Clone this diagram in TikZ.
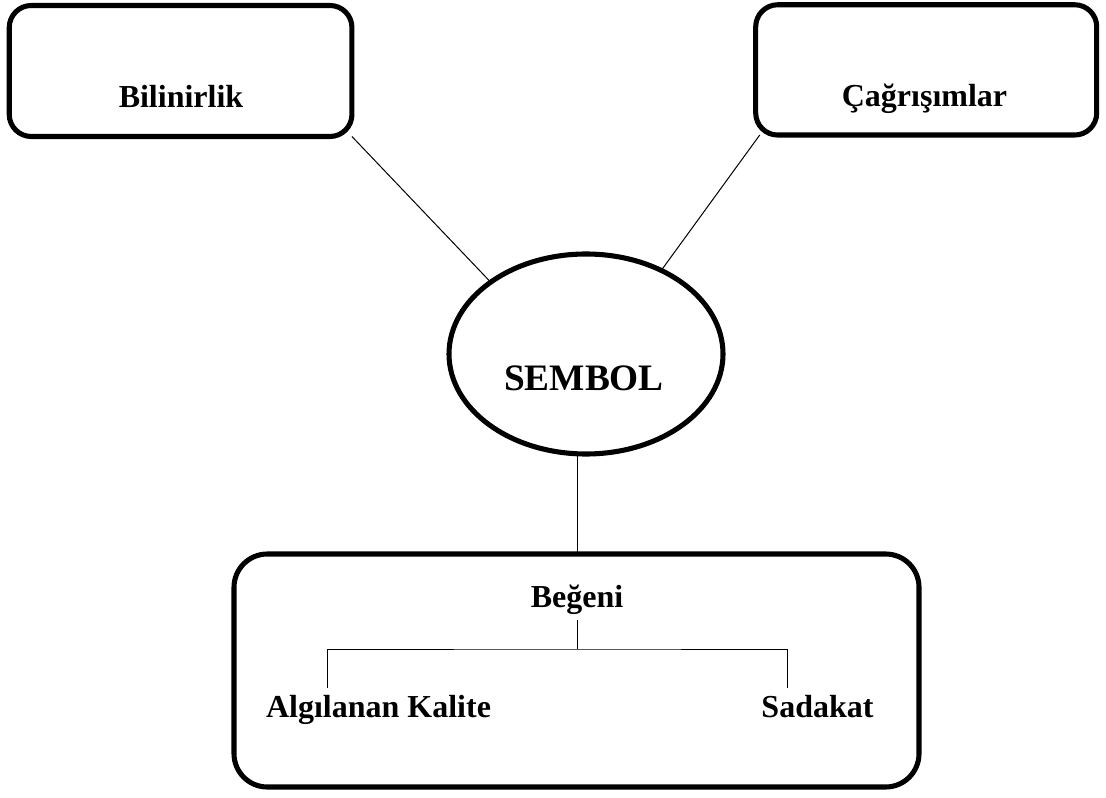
\documentclass[tikz,border=0pt]{standalone}
\usepackage{fontspec}
\setmainfont{Liberation Serif}
\usetikzlibrary{shapes.geometric,calc}
\tikzset{
  box/.style={draw, line width=3.8pt, rounded corners=16.5pt, inner sep=0pt, outer sep=0pt},
  bigbox/.style={box, rounded corners=25pt},
  oval/.style={draw, ellipse, line width=3.8pt, inner sep=0pt, outer sep=0pt},
  lbl/.style={font=\fontsize{24}{28}\selectfont\bfseries, inner sep=0pt, outer sep=0pt, anchor=base},
  biglbl/.style={lbl, font=\fontsize{28}{32}\selectfont\bfseries},
  link/.style={line width=0.75pt}
}
\begin{document}
\begin{tikzpicture}[x=0.75pt, y=-0.75pt]
\useasboundingbox (0,0) rectangle (1106,798);
% boxes
\node[box, minimum width=257pt, minimum height=98.25pt] (bil) at (180.6,71) {};
\node[box, minimum width=255.75pt, minimum height=97.7pt] (cag) at (926.2,69.9) {};
\node[oval, minimum width=205.5pt, minimum height=150pt] (sem) at (586,354) {};
\node[bigbox, minimum width=513.75pt, minimum height=174.75pt] (beg) at (576.5,670.5) {};
% labels
\node[lbl] (biltxt) at (181,108) {Bilinirlik};
\node[lbl] (cagtxt) at (924.5,107) {Çağrışımlar};
\node[biglbl] (semtxt) at (584,391) {SEMBOL};
\node[lbl, inner sep=4.5pt] (begtxt) at (577,607) {Beğeni};
\node[lbl] (algtxt) at (378.5,717) {Algılanan Kalite};
\node[lbl] (sadtxt) at (817.5,717) {Sadakat};
% connector points
\coordinate (j) at (577,649);
\coordinate (atop) at (327,688);
\coordinate (stop) at (787,688);
\coordinate (cagc) at ($(cag.south west)+(4,0)$);
\coordinate (semb) at ($(sem.south)+(-9,0)$);
% connectors
\draw[link] (bil.south east) -- (sem.143);
\draw[link] (cagc) -- (sem.48.5);
\draw[link] (semb) -- (semb |- beg.north);
\draw[link] (begtxt.base |- 0,620) -- (j);
\draw[link] (atop) |- (j) -| (stop);
\end{tikzpicture}
\end{document}
